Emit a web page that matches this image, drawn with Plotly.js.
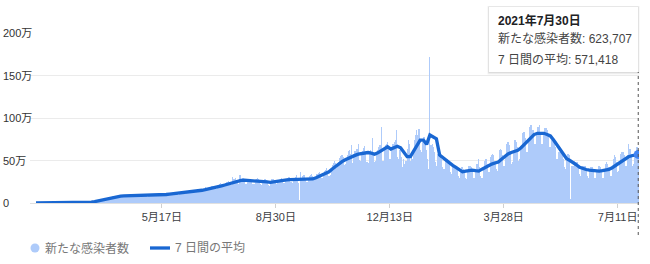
<!DOCTYPE html>
<html><head><meta charset="utf-8">
<script src="https://cdn.plot.ly/plotly-3.0.1.min.js"></script>
<style>html,body{margin:0;padding:0;background:#fff}#chart{width:650px;height:264px}</style>
</head><body><div id="chart"></div>
<script>
// ---- DATA (values in 万 = 10,000 cases) ----
const startDate = '2020-01-22';
const lastDate = '2021-07-30';
// daily new cases, one value per day from 2020-01-22 to 2021-07-30 (weeks start on Wednesday)
const dailyCases = [
0.05,0.03,0.1,0.08,0.2,0.15,0.2,
0.2,0.2,0.26,0.21,0.26,0.31,0.38,
0.37,0.36,0.32,0.3,0.27,0.25,0.2,
0.2,1.5,0.5,0.27,0.2,0.2,0.2,
0.1,0.05,0.06,0.05,0.07,0.1,0.08,
0.13,0.15,0.2,0.18,0.2,0.2,0.25,
0.25,0.27,0.3,0.35,0.4,0.45,0.45,
0.75,0.8,1.1,1.1,1.3,1.5,1.6,
2.2,2.9,3.3,3.5,3.6,4.3,4.6,
5.0,6.0,6.3,6.4,5.8,6.0,6.8,
7.5,8.0,8.2,8.4,7.5,7.2,7.8,
8.4,8.6,9.0,8.4,7.9,7.2,7.6,
8.8,9.0,9.5,8.4,7.8,7.4,7.8,
8.6,9.1,9.3,8.6,7.8,7.5,8.2,
8.8,9.1,9.3,8.9,8.0,7.6,8.4,
9.0,9.5,9.7,9.0,7.9,7.8,8.7,
9.6,10.0,10.2,9.8,8.6,8.7,9.8,
10.5,10.8,11.0,10.6,9.4,9.0,10.0,
11.4,11.9,12.4,11.7,10.3,9.9,11.2,
12.4,12.9,13.4,12.5,11.0,11.0,12.6,
13.6,13.8,14.2,13.5,12.0,11.6,13.8,
14.6,15.2,16.8,15.2,13.2,13.4,15.3,
17.0,17.8,18.6,17.2,15.0,15.0,17.0,
18.2,19.8,19.6,19.0,17.0,17.0,19.8,
21.0,22.2,23.0,22.0,19.2,19.0,21.4,
23.2,24.4,26.0,24.2,21.0,21.0,30.5,
27.8,28.2,29.0,26.0,23.0,22.6,32.5,
28.5,29.0,29.0,26.0,22.8,22.4,26.0,
28.0,28.5,28.8,26.2,22.8,22.0,25.6,
28.6,29.6,27.8,25.6,22.0,21.0,26.2,
27.6,27.8,27.0,23.4,20.6,20.0,24.4,
28.2,28.6,28.4,27.0,23.0,22.8,25.8,
27.6,28.6,29.0,28.0,23.8,23.4,26.0,
28.4,29.4,30.8,30.2,25.0,23.0,27.6,
29.8,31.0,32.4,28.8,24.0,3.0,36.0,
30.0,32.0,33.0,30.0,25.0,24.8,28.2,
31.6,32.6,33.6,31.6,26.8,27.0,30.6,
33.6,35.6,36.4,34.0,29.0,29.6,33.8,
37.8,39.2,41.2,37.6,31.8,32.6,37.8,
44.4,47.0,50.0,47.0,40.6,41.8,48.0,
52.4,55.4,57.0,53.6,45.0,46.0,52.0,
57.0,60.6,62.6,58.0,68.0,46.6,57.2,
60.6,63.0,64.0,69.6,50.2,49.4,58.8,
61.6,65.0,66.6,61.2,48.6,47.4,58.6,
62.0,56.0,76.0,60.0,48.0,50.0,56.0,
62.0,66.0,68.0,89.0,50.0,50.0,62.0,
68.0,70.0,72.0,64.0,52.0,52.0,66.0,
70.0,72.0,74.0,86.0,54.0,52.0,62.0,
66.0,54.0,42.0,52.0,46.0,50.0,64.0,
74.0,70.0,50.0,56.0,52.0,60.0,74.0,
80.0,86.0,80.0,87.0,62.0,60.0,72.0,
78.0,78.0,72.0,62.0,52.0,40.0,172.0,
68.0,70.0,66.0,60.0,48.0,44.0,58.0,
60.0,60.0,58.0,52.0,42.0,40.0,50.0,
52.0,52.0,50.0,46.0,36.0,34.0,42.0,
46.0,44.0,44.0,40.0,32.0,30.0,36.0,
42.0,42.0,40.0,38.0,30.0,28.0,38.0,
44.0,44.0,42.0,40.0,30.0,30.0,40.0,
46.0,46.0,52.0,42.0,32.0,30.0,42.0,
50.0,52.0,52.0,46.0,36.0,36.0,54.0,
56.0,58.0,56.0,50.0,40.0,38.0,48.0,
62.0,64.0,62.0,56.0,44.0,44.0,54.0,
70.0,72.0,68.0,60.0,46.0,48.0,60.0,
74.0,74.0,72.0,66.0,50.0,52.0,64.0,
82.0,84.0,84.0,76.0,60.0,60.0,74.0,
90.0,92.0,92.0,86.0,70.0,70.0,80.0,
90.0,90.0,92.0,84.0,70.0,70.0,80.0,
88.0,88.0,86.0,80.0,66.0,66.0,74.0,
78.0,76.0,74.0,66.0,52.0,52.0,60.0,
62.0,60.0,58.0,52.0,42.0,40.0,50.0,
58.0,58.0,56.0,5.0,44.0,44.0,50.0,
48.0,48.0,48.0,42.0,34.0,32.0,40.0,
44.0,44.0,44.0,40.0,32.0,30.0,38.0,
42.0,42.0,42.0,38.0,30.0,30.0,38.0,
44.0,44.0,42.0,40.0,30.0,30.0,40.0,
46.0,48.0,46.0,42.0,32.0,32.0,42.0,
52.0,56.0,54.0,48.0,36.0,38.0,50.0,
58.0,60.0,60.0,56.0,44.0,44.0,56.0,
70.0,64.0,64.0,58.0,44.0,46.0,58.0,
66.0,66.0,62.3707
];
// 7-day average, read every 3 days from 2020-01-22 to 2021-07-30
const avgStepDays = 3;
const avg7 = [
0.05,0.08,0.15,0.25,0.3,0.3,0.3,0.35,0.5,0.45,
0.25,0.2,0.2,0.2,0.25,0.35,0.5,1.0,1.6,2.4,
3.4,4.4,5.4,6.3,7.1,7.8,8.2,8.4,8.5,8.5,
8.5,8.6,8.6,8.7,8.8,8.8,8.9,9.0,9.3,9.6,
10.0,10.4,10.8,11.2,11.6,12.1,12.6,12.9,13.2,13.5,
14.2,15.0,15.7,16.4,17.2,18.2,19.2,20.2,21.2,22.3,
23.3,24.3,25.3,26.5,26.8,26.6,26.2,26.0,26.1,26.1,
25.6,24.8,24.3,25.0,25.8,26.5,27.0,27.3,27.6,27.8,
28.0,27.8,27.9,28.0,28.1,28.3,29.8,31.8,33.6,35.0,
36.7,40.0,43.2,46.3,48.6,50.8,52.8,54.5,56.0,57.4,
58.4,59.4,59.4,58.6,57.4,59.0,61.6,64.0,66.2,63.4,
65.5,66.8,65.0,59.0,54.5,54.5,61.5,67.5,74.0,74.0,
69.0,80.0,78.0,75.5,56.5,53.2,50.5,47.4,44.3,41.8,
39.0,36.7,37.6,38.5,38.6,38.0,37.5,39.8,42.0,44.4,
45.8,47.0,48.3,51.5,54.5,57.8,59.5,60.8,62.1,65.0,
68.8,72.8,76.8,80.5,82.0,82.2,82.0,80.6,78.9,74.0,
68.5,62.5,56.5,52.0,50.0,48.0,45.0,42.0,40.4,39.4,
38.6,38.0,37.5,37.5,38.0,38.6,39.5,41.5,44.0,46.6,
49.5,52.0,54.4,55.6,56.5,57.1418
];
const yTickVals = [0, 50, 100, 150, 200];
const yTickLabels = ['0', '50万', '100万', '150万', '200万'];
const xTickDates = ['2020-05-17', '2020-08-30', '2020-12-13', '2021-03-28', '2021-07-11'];
const xTickLabels = ['5月17日', '8月30日', '12月13日', '3月28日', '7月11日'];
const seriesNames = ['新たな感染者数', '7 日間の平均'];
const tooltipTitle = '2021年7月30日';

// ---- build ----
const DAY = 86400000;
const t0 = Date.parse(startDate + 'T00:00:00Z');
const iso = ms => new Date(ms).toISOString().slice(0, 10);
const barX = dailyCases.map((_, i) => iso(t0 + i * DAY));
const avgX = avg7.map((_, i) => iso(t0 + i * avgStepDays * DAY));

const W = 650, H = 264, mL = 30, mR = 11, mT = 33, mB = 61;
const pw = W - mL - mR, ph = H - mT - mB;
const px = x => (x - mL) / pw;          // pixel -> paper x
const py = y => (H - mB - y) / ph;      // pixel -> paper y

const FONT = 'Arial, "Liberation Sans", "Noto Sans CJK JP", sans-serif';
const barColor = '#aecbfa', lineColor = '#1967d2', dotColor = '#4285f4';

const fmt = v => Math.round(v * 10000).toLocaleString('en-US');
const lastCases = dailyCases[dailyCases.length - 1];
const lastAvg = avg7[avg7.length - 1];

const traces = [
  {type: 'bar', x: barX, y: dailyCases, width: DAY * 1.02,
   marker: {color: barColor, line: {width: 0}}, hoverinfo: 'skip', showlegend: false},
  {type: 'scatter', mode: 'lines', x: avgX, y: avg7,
   line: {color: lineColor, width: 3.3}, hoverinfo: 'skip', showlegend: false},
  {type: 'scatter', mode: 'markers', x: [avgX[avgX.length - 1]], y: [lastAvg],
   marker: {color: dotColor, size: 9}, hoverinfo: 'skip', showlegend: false}
];

const rangeStart = iso(t0 - 5.53 * DAY) + ' 11:17';
const rangeEnd = lastDate + ' 16:48';

const annotations = [];
yTickVals.forEach((v, i) => annotations.push({
  xref: 'paper', yref: 'y', x: px(2), y: v, xanchor: 'left', yanchor: 'middle',
  text: yTickLabels[i], showarrow: false, font: {family: FONT, size: 11, color: '#333'}, borderpad: 0
}));
// legend texts
annotations.push({xref: 'paper', yref: 'paper', x: px(44), y: py(248), xanchor: 'left', yanchor: 'middle',
  text: seriesNames[0], showarrow: false, font: {family: FONT, size: 12, color: '#777'}, borderpad: 0});
annotations.push({xref: 'paper', yref: 'paper', x: px(174), y: py(248), xanchor: 'left', yanchor: 'middle',
  text: seriesNames[1], showarrow: false, font: {family: FONT, size: 12, color: '#777'}, borderpad: 0});
// tooltip texts
annotations.push({xref: 'paper', yref: 'paper', x: px(497), y: py(20), xanchor: 'left', yanchor: 'middle',
  text: '<b>' + tooltipTitle + '</b>', showarrow: false, font: {family: FONT, size: 12, color: '#202124'}, borderpad: 0});
annotations.push({xref: 'paper', yref: 'paper', x: px(497), y: py(38.5), xanchor: 'left', yanchor: 'middle',
  text: seriesNames[0] + ': ' + fmt(lastCases), showarrow: false, font: {family: FONT, size: 12, color: '#444'}, borderpad: 0});
annotations.push({xref: 'paper', yref: 'paper', x: px(497), y: py(59.5), xanchor: 'left', yanchor: 'middle',
  text: seriesNames[1] + ': ' + fmt(lastAvg), showarrow: false, font: {family: FONT, size: 12, color: '#444'}, borderpad: 0});

const shapes = [
  // dotted hover line
  {type: 'line', xref: 'x', yref: 'paper', x0: lastDate, x1: lastDate, y0: py(235), y1: py(72),
   line: {color: '#555', width: 1, dash: 'dot'}, layer: 'above'},
  // tooltip shadow + box
  {type: 'rect', xref: 'paper', yref: 'paper', x0: px(487.5), x1: px(639.5), y0: py(74.5), y1: py(6),
   fillcolor: 'rgba(0,0,0,0.05)', line: {width: 0}, layer: 'above'},
  {type: 'rect', xref: 'paper', yref: 'paper', x0: px(488.3), x1: px(638.7), y0: py(73.3), y1: py(6.5),
   fillcolor: 'rgba(0,0,0,0.09)', line: {width: 0}, layer: 'above'},
  {type: 'rect', xref: 'paper', yref: 'paper', x0: px(489), x1: px(638), y0: py(72), y1: py(7),
   fillcolor: '#ffffff', line: {width: 0}, layer: 'above'},
  // legend symbols
  {type: 'circle', xref: 'paper', yref: 'paper', xsizemode: 'pixel', ysizemode: 'pixel',
   xanchor: px(35), yanchor: py(248), x0: -4.5, x1: 4.5, y0: -4.5, y1: 4.5,
   fillcolor: barColor, line: {width: 0}},
  {type: 'line', xref: 'paper', yref: 'paper', x0: px(150), x1: px(170), y0: py(248), y1: py(248),
   line: {color: lineColor, width: 3.3}}
];

const layout = {
  width: W, height: H, margin: {l: mL, r: mR, t: mT, b: mB, pad: 0},
  paper_bgcolor: '#fff', plot_bgcolor: '#fff', bargap: 0, showlegend: false,
  font: {family: FONT},
  xaxis: {type: 'date', range: [rangeStart, rangeEnd], tickvals: xTickDates, ticktext: xTickLabels,
    showgrid: false, zeroline: false, showline: false, ticks: 'outside', ticklen: 4, tickcolor: '#d0d0d0',
    tickfont: {family: FONT, size: 11, color: '#3c4043'}, fixedrange: true},
  yaxis: {range: [0, 200], tickvals: yTickVals, showticklabels: false, showgrid: true, gridcolor: '#ebebeb',
    gridwidth: 1, zeroline: true, zerolinecolor: '#e0e0e0', zerolinewidth: 1, ticks: '', fixedrange: true},
  annotations: annotations, shapes: shapes
};

Plotly.newPlot('chart', traces, layout, {staticPlot: true, displayModeBar: false});
</script></body></html>
